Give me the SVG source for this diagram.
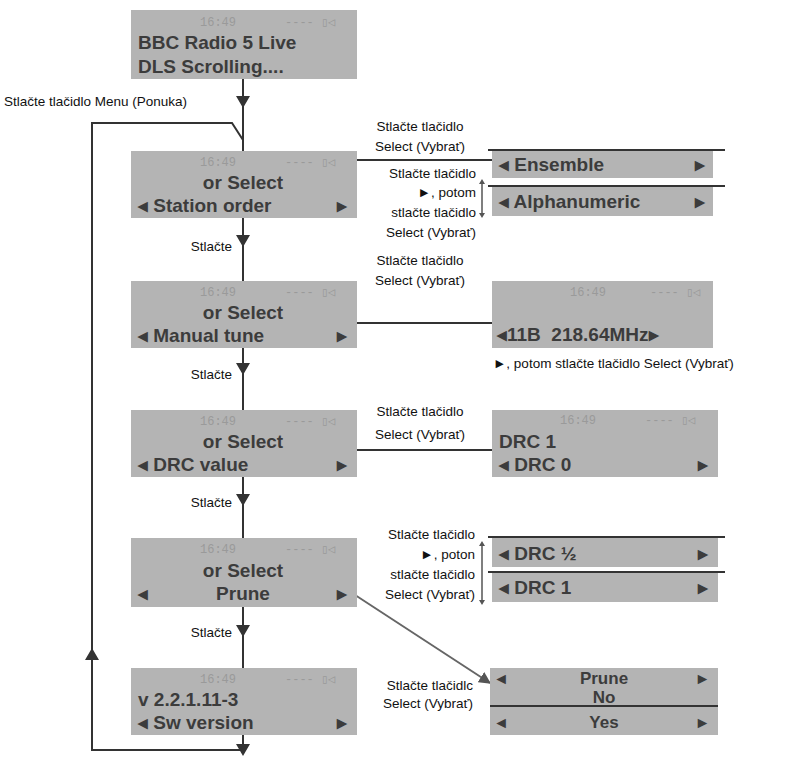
<svg xmlns="http://www.w3.org/2000/svg" width="790" height="771" viewBox="0 0 790 771">
<style>
.lcd{fill:#b4b4b4}
.t{font-family:"Liberation Sans",Arial,sans-serif;font-weight:bold;fill:#3c3c3c;font-size:19px}
.s{font-size:17px}
.c{font-family:"Liberation Mono",monospace;fill:#9a9a9a;font-size:12px}
.l{font-family:"Liberation Sans",Arial,sans-serif;fill:#111;font-size:13.5px}
.ln{stroke:#333;stroke-width:2;fill:none}
.ar{fill:#333}
</style>
<defs>
<marker id="a" viewBox="0 0 10 10" refX="9" refY="5" markerWidth="6" markerHeight="6" orient="auto"><path d="M0,0L10,5L0,10z" fill="#555"/></marker>
</defs>
<g id="connectors">
<line class="ln" x1="243" y1="79" x2="243" y2="151"/>
<line class="ln" x1="243" y1="218" x2="243" y2="281"/>
<line class="ln" x1="243" y1="348" x2="243" y2="410"/>
<line class="ln" x1="243" y1="477" x2="243" y2="538"/>
<line class="ln" x1="243" y1="607" x2="243" y2="668"/>
<line class="ln" x1="243" y1="735" x2="243" y2="750"/>
<polyline class="ln" points="243,750 92,750 92,123 232,123 243,140"/>
<path class="ar" d="M236,96h14l-7,12z M236,235h14l-7,12z M236,363h14l-7,12z M236,494h14l-7,12z M236,625h14l-7,12z M236,744h14l-7,12z M85,660h14l-7,-12z"/>
<line class="ln" x1="357" y1="160" x2="492" y2="160"/>
<line class="ln" x1="357" y1="323" x2="492" y2="323"/>
<line class="ln" x1="357" y1="450" x2="492" y2="450"/>
<line x1="352" y1="593" x2="490" y2="683" stroke="#666" stroke-width="2" marker-end="url(#a)"/>
<line x1="482" y1="182" x2="482" y2="215" stroke="#555" stroke-width="1.5"/>
<path d="M479,184l3,-5l3,5z M479,213l3,5l3,-5z" fill="#555"/>
<line x1="482" y1="544" x2="482" y2="602" stroke="#555" stroke-width="1.5"/>
<path d="M479,546l3,-5l3,5z M479,600l3,5l3,-5z" fill="#555"/>
</g>
<g id="n1"><rect class="lcd" x="131" y="10" width="226" height="69"/>
<text class="c" x="200" y="26">16:49</text><text class="c" x="285" y="26">---- ▯◁</text>
<text class="t" x="138" y="49">BBC Radio 5 Live</text><text class="t" x="138" y="73">DLS Scrolling....</text></g>
<g id="n2"><rect class="lcd" x="131" y="151" width="226" height="67"/>
<text class="c" x="200" y="166">16:49</text><text class="c" x="285" y="166">---- ▯◁</text>
<text class="t" x="243" y="189" text-anchor="middle">or Select</text><text class="t" x="138" y="212">◂ Station order</text><text class="t" x="337" y="212">▸</text></g>
<g id="n3"><rect class="lcd" x="131" y="281" width="226" height="67"/>
<text class="c" x="200" y="296">16:49</text><text class="c" x="285" y="296">---- ▯◁</text>
<text class="t" x="243" y="319" text-anchor="middle">or Select</text><text class="t" x="138" y="342">◂ Manual tune</text><text class="t" x="337" y="342">▸</text></g>
<g id="n4"><rect class="lcd" x="131" y="410" width="226" height="67"/>
<text class="c" x="200" y="425">16:49</text><text class="c" x="285" y="425">---- ▯◁</text>
<text class="t" x="243" y="448" text-anchor="middle">or Select</text><text class="t" x="138" y="471">◂ DRC value</text><text class="t" x="337" y="471">▸</text></g>
<g id="n5"><rect class="lcd" x="131" y="538" width="226" height="69"/>
<text class="c" x="200" y="553">16:49</text><text class="c" x="285" y="553">---- ▯◁</text>
<text class="t" x="243" y="577" text-anchor="middle">or Select</text><text class="t" x="138" y="600">◂</text><text class="t" x="243" y="600" text-anchor="middle">Prune</text><text class="t" x="337" y="600">▸</text></g>
<g id="n6"><rect class="lcd" x="131" y="668" width="226" height="67"/>
<text class="c" x="200" y="683">16:49</text><text class="c" x="285" y="683">---- ▯◁</text>
<text class="t" x="138" y="706">v 2.2.1.11-3</text><text class="t" x="138" y="729">◂ Sw version</text><text class="t" x="337" y="729">▸</text></g>
<g id="ens"><rect class="lcd" x="492" y="151" width="221" height="27"/><line class="ln" x1="488" y1="150" x2="725" y2="150"/>
<text class="t" x="499" y="171">◂ Ensemble</text><text class="t" x="695" y="171">▸</text></g>
<g id="alpha"><rect class="lcd" x="492" y="187" width="221" height="29"/><line class="ln" x1="488" y1="186" x2="725" y2="186"/>
<text class="t" x="499" y="208">◂ Alphanumeric</text><text class="t" x="695" y="208">▸</text></g>
<g id="tune"><rect class="lcd" x="492" y="281" width="221" height="67"/>
<text class="c" x="570" y="296">16:49</text><text class="c" x="650" y="296">---- ▯◁</text>
<text class="t" x="497" y="341" xml:space="preserve">◂11B  218.64MHz▸</text></g>
<g id="drc"><rect class="lcd" x="492" y="410" width="226" height="67"/>
<text class="c" x="560" y="424">16:49</text><text class="c" x="645" y="424">---- ▯◁</text>
<text class="t" x="499" y="448">DRC 1</text><text class="t" x="499" y="471">◂ DRC 0</text><text class="t" x="698" y="471">▸</text></g>
<g id="drch"><rect class="lcd" x="492" y="538" width="226" height="29"/><line class="ln" x1="488" y1="537" x2="725" y2="537"/>
<text class="t" x="499" y="560">◂ DRC ½</text><text class="t" x="698" y="560">▸</text></g>
<g id="drc1"><rect class="lcd" x="492" y="573" width="226" height="29"/><line class="ln" x1="488" y1="572" x2="725" y2="572"/>
<text class="t" x="499" y="594">◂ DRC 1</text><text class="t" x="698" y="594">▸</text></g>
<g id="prune"><rect class="lcd" x="490" y="668" width="228" height="67"/><line class="ln" x1="490" y1="706" x2="718" y2="706"/>
<text class="t s" x="497" y="684">◂</text><text class="t s" x="604" y="684" text-anchor="middle">Prune</text><text class="t s" x="698" y="684">▸</text>
<text class="t s" x="604" y="703" text-anchor="middle">No</text>
<text class="t s" x="497" y="728">◂</text><text class="t s" x="604" y="728" text-anchor="middle">Yes</text><text class="t s" x="698" y="728">▸</text></g>
<g id="labels">
<text class="l" x="4" y="106">Stlačte tlačidlo Menu (Ponuka)</text>
<text class="l" x="232" y="251" text-anchor="end">Stlačte</text>
<text class="l" x="232" y="379" text-anchor="end">Stlačte</text>
<text class="l" x="232" y="507" text-anchor="end">Stlačte</text>
<text class="l" x="232" y="637" text-anchor="end">Stlačte</text>
<text class="l" x="420" y="131" text-anchor="middle">Stlačte tlačidlo</text>
<text class="l" x="420" y="151" text-anchor="middle">Select (Vybrať)</text>
<text class="l" x="476" y="178" text-anchor="end">Stlačte tlačidlo</text>
<text class="l" x="476" y="197" text-anchor="end">►, potom</text>
<text class="l" x="476" y="217" text-anchor="end">stlačte tlačidlo</text>
<text class="l" x="476" y="237" text-anchor="end">Select (Vybrať)</text>
<text class="l" x="420" y="265" text-anchor="middle">Stlačte tlačidlo</text>
<text class="l" x="420" y="285" text-anchor="middle">Select (Vybrať)</text>
<text class="l" x="493" y="368">►, potom stlačte tlačidlo Select (Vybrať)</text>
<text class="l" x="420" y="416" text-anchor="middle">Stlačte tlačidlo</text>
<text class="l" x="420" y="439" text-anchor="middle">Select (Vybrať)</text>
<text class="l" x="475" y="539" text-anchor="end">Stlačte tlačidlo</text>
<text class="l" x="475" y="559" text-anchor="end">►, poton</text>
<text class="l" x="475" y="579" text-anchor="end">stlačte tlačidlo</text>
<text class="l" x="475" y="599" text-anchor="end">Select (Vybrať)</text>
<text class="l" x="473" y="690" text-anchor="end">Stlačte tlačidlc</text>
<text class="l" x="473" y="708" text-anchor="end">Select (Vybrať)</text>
</g>
</svg>
